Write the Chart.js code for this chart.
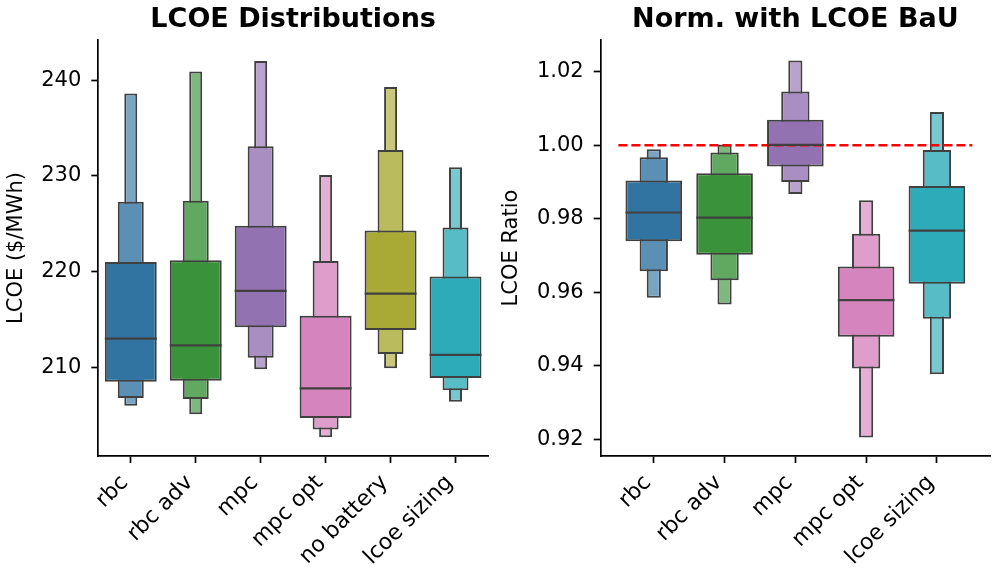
<!DOCTYPE html>
<html>
<head>
<meta charset="utf-8">
<script src="https://cdn.jsdelivr.net/npm/chart.js@4.4.0/dist/chart.umd.min.js"></script>
<style>
body{margin:0;background:#fff;}
#wrap{position:relative;width:997px;height:581px;overflow:hidden;}
.panel{position:absolute;top:0;height:581px;}
</style>
</head>
<body>
<div id="wrap">
  <div class="panel" style="left:0;width:498px"><canvas id="lcoe"></canvas></div>
  <div class="panel" style="left:498px;width:499px"><canvas id="ratio"></canvas></div>
</div>
<script>
// ---- left panel: LCOE ($/MWh) ----
var lcoeCats = ['rbc', 'rbc adv', 'mpc', 'mpc opt', 'no battery', 'lcoe sizing'];
var lcoeColors = ['#3274a1', '#3a923a', '#9372b2', '#d684bd', '#a9aa35', '#2eabb8'];
var lcoeL3Hi = [238.6, 240.9, 242.0, 230.1, 239.3, 230.9];
var lcoeL2Hi = [227.3, 227.4, 233.1, 221.1, 232.7, 224.6];
var lcoeL1Hi = [221.0, 221.2, 224.8, 215.4, 224.3, 219.5];
var lcoeMed  = [213.0, 212.3, 218.0, 207.8, 217.7, 211.3];
var lcoeL1Lo = [208.5, 208.6, 214.2, 204.7, 213.9, 208.9];
var lcoeL2Lo = [206.8, 206.7, 211.0, 203.5, 211.4, 207.6];
var lcoeL3Lo = [206.0, 205.1, 209.8, 202.7, 209.9, 206.4];
var lcoeTicks = [210, 220, 230, 240];

// ---- right panel: ratio to LCOE BaU ----
var ratioCats = ['rbc', 'rbc adv', 'mpc', 'mpc opt', 'lcoe sizing'];
var ratioColors = ['#3274a1', '#3a923a', '#9372b2', '#d684bd', '#2eabb8'];
var ratioL3Hi = [0.9989, 1.0001, 1.0230, 0.9850, 1.0090];
var ratioL2Hi = [0.9967, 0.9980, 1.0146, 0.9759, 0.9987];
var ratioL1Hi = [0.9904, 0.9924, 1.0069, 0.9670, 0.9889];
var ratioMed  = [0.9817, 0.9803, 1.0001, 0.9579, 0.9768];
var ratioL1Lo = [0.9739, 0.9702, 0.9942, 0.9479, 0.9623];
var ratioL2Lo = [0.9657, 0.9633, 0.9900, 0.9393, 0.9528];
var ratioL3Lo = [0.9585, 0.9567, 0.9867, 0.9205, 0.9377];
var ratioTicks = [0.92, 0.94, 0.96, 0.98, 1.00, 1.02];
var bauLevel = 1.0;

Chart.defaults.font.family = 'DejaVu Sans';
Chart.defaults.color = '#000';

var edge = '#404040';

function lighten(hex, t) {
    var r = parseInt(hex.slice(1, 3), 16), g = parseInt(hex.slice(3, 5), 16), b = parseInt(hex.slice(5, 7), 16);
    r = Math.round(r + (255 - r) * t); g = Math.round(g + (255 - g) * t); b = Math.round(b + (255 - b) * t);
    return 'rgb(' + r + ',' + g + ',' + b + ')';
}

function level(lo, hi, colors, pct, light, ord) {
    return {
        data: lo.map(function (v, i) { return {x: i, y: [v, hi[i]]}; }),
        backgroundColor: colors.map(function (c) { return lighten(c, light); }),
        borderColor: edge,
        borderWidth: 2,
        borderSkipped: false,
        categoryPercentage: 1,
        barPercentage: pct,
        grouped: false,
        order: ord
    };
}

// median lines across the widest box
var medianPlugin = {
    id: 'medians',
    afterDatasetsDraw: function (chart, args, opts) {
        var meta = chart.getDatasetMeta(0);
        var y = chart.scales.y;
        var ctx = chart.ctx;
        ctx.save();
        ctx.strokeStyle = edge;
        ctx.lineWidth = 2.2;
        meta.data.forEach(function (bar, i) {
            var py = y.getPixelForValue(opts.values[i]);
            ctx.beginPath();
            ctx.moveTo(bar.x - bar.width / 2, py);
            ctx.lineTo(bar.x + bar.width / 2, py);
            ctx.stroke();
        });
        ctx.restore();
    }
};

function makePanel(id, p) {
    var datasets = [
        level(p.l1lo, p.l1hi, p.colors, 0.8, 0, 1),
        level(p.l2lo, p.l2hi, p.colors, 0.4, 0.2, 2),
        level(p.l3lo, p.l3hi, p.colors, 0.2, 0.35, 3)
    ];
    if (p.extra) datasets.push(p.extra);
    return new Chart(document.getElementById(id), {
        type: 'bar',
        data: {datasets: datasets},
        plugins: [medianPlugin],
        options: {
            responsive: true,
            maintainAspectRatio: false,
            animation: false,
            layout: {autoPadding: false, padding: {left: 0, right: p.padRight, top: 0, bottom: 0}},
            plugins: {
                legend: {display: false},
                tooltip: {enabled: false},
                title: {
                    display: true, text: p.title, fullSize: false,
                    font: {size: 27, weight: 'bold', lineHeight: 1.2},
                    padding: {top: 3.5, bottom: 4.1}, color: '#000'
                },
                medians: {values: p.med}
            },
            scales: {
                x: {
                    type: 'linear', min: p.xmin, max: p.xmax, offset: false,
                    afterBuildTicks: function (ax) { ax.ticks = p.cats.map(function (c, i) { return {value: i}; }); },
                    afterFit: function (ax) { ax.height = 125; },
                    ticks: {
                        autoSkip: false, minRotation: 45, maxRotation: 45, padding: 7, labelOffset: -6,
                        font: {size: 22}, color: '#000',
                        callback: function (v) { return p.cats[v]; }
                    },
                    grid: {drawOnChartArea: false, offset: false, tickLength: 7, tickWidth: 1.7, tickColor: '#000'},
                    border: {display: true, color: '#000', width: 1.7}
                },
                y: {
                    min: p.ymin, max: p.ymax,
                    afterBuildTicks: function (ax) { ax.ticks = p.yticks.map(function (v) { return {value: v}; }); },
                    afterFit: function (ax) { ax.width = p.yWidth; },
                    ticks: {
                        padding: 10, font: {size: 21}, color: '#000',
                        callback: function (v) { return p.fmt(v); }
                    },
                    title: {display: true, text: p.ytitle, font: {size: 21}, color: '#000', padding: {top: p.titlePad, bottom: 0}},
                    grid: {drawOnChartArea: false, tickLength: 7, tickWidth: 1.7, tickColor: '#000'},
                    border: {display: true, color: '#000', width: 1.7}
                }
            }
        }
    });
}

makePanel('lcoe', {
    title: 'LCOE Distributions', ytitle: 'LCOE ($/MWh)',
    cats: lcoeCats, colors: lcoeColors,
    l1lo: lcoeL1Lo, l1hi: lcoeL1Hi, l2lo: lcoeL2Lo, l2hi: lcoeL2Hi, l3lo: lcoeL3Lo, l3hi: lcoeL3Hi,
    med: lcoeMed, yticks: lcoeTicks,
    ymin: 200.74, ymax: 244.2, xmin: -0.5, xmax: 5.5,
    yWidth: 98.3, padRight: 10, titlePad: 4,
    fmt: function (v) { return v.toFixed(0); }
});

makePanel('ratio', {
    title: 'Norm. with LCOE BaU', ytitle: 'LCOE Ratio',
    cats: ratioCats, colors: ratioColors,
    l1lo: ratioL1Lo, l1hi: ratioL1Hi, l2lo: ratioL2Lo, l2hi: ratioL2Hi, l3lo: ratioL3Lo, l3hi: ratioL3Hi,
    med: ratioMed, yticks: ratioTicks,
    ymin: 0.9155, ymax: 1.0286, xmin: -0.75, xmax: 4.75,
    yWidth: 102.7, padRight: 7, titlePad: 1,
    fmt: function (v) { return v.toFixed(2); },
    extra: {
        type: 'line',
        data: [{x: -0.5, y: bauLevel}, {x: ratioCats.length - 0.5, y: bauLevel}],
        borderColor: '#ff0000', borderWidth: 2.5, borderDash: [9, 4],
        pointRadius: 0, fill: false, order: 0
    }
});
</script>
</body>
</html>
